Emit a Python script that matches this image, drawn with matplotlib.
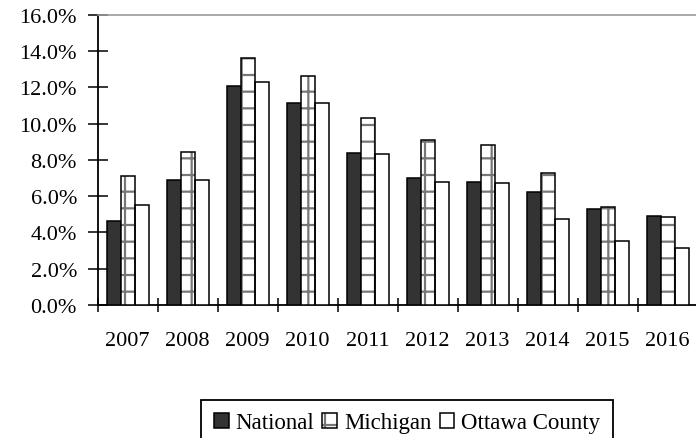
import numpy as np
import matplotlib
matplotlib.use("Agg")
import matplotlib.pyplot as plt
from matplotlib.patches import Patch
from matplotlib.legend_handler import HandlerTuple
from matplotlib.ticker import FuncFormatter

# === Données (taux de chômage, %) ===
annees = ["2007", "2008", "2009", "2010", "2011", "2012", "2013", "2014", "2015", "2016"]
national = [4.65, 6.9, 12.1, 11.15, 8.4, 7.0, 6.75, 6.2, 5.3, 4.9]
michigan = [7.1, 8.45, 13.6, 12.65, 10.3, 9.1, 8.8, 7.3, 5.4, 4.85]
ottawa = [5.5, 6.9, 12.3, 11.15, 8.35, 6.8, 6.7, 4.75, 3.5, 3.15]

plt.rcParams['font.family'] = ['Liberation Serif', 'DejaVu Serif']
plt.rcParams['hatch.linewidth'] = 1.6

fig = plt.figure(figsize=(6.96, 4.39), dpi=100)
ax = fig.add_axes([0.1404, 0.3036, 0.862, 0.66])

x = np.arange(len(annees))
w = 0.235
lw = 1.1

ax.bar(x - w, national, w, color="#333333", edgecolor="black", linewidth=lw, zorder=3)
# Michigan : quadrillage gris puis contour noir
ax.bar(x, michigan, w, color="white", edgecolor="#777777", hatch="+", linewidth=0, zorder=3)
ax.bar(x, michigan, w, fill=False, edgecolor="black", linewidth=lw, zorder=4)
ax.bar(x + w, ottawa, w, color="white", edgecolor="black", linewidth=lw, zorder=3)

# === Axes ===
ax.set_xlim(-0.5, len(annees) - 0.5)
ax.set_ylim(0, 16)
ax.set_yticks(np.arange(0, 16.1, 2))
ax.yaxis.set_major_formatter(FuncFormatter(lambda v, p: "%.1f%%" % v))
ax.tick_params(axis="y", direction="inout", length=14, width=1.1, pad=8, labelsize=16)

ax.set_xticks(np.arange(-0.5, len(annees), 1))
ax.set_xticklabels([])
ax.set_xticks(x, minor=True)
ax.set_xticklabels(annees, minor=True)
ax.tick_params(axis="x", which="major", direction="inout", length=10, width=1.1)
ax.tick_params(axis="x", which="minor", length=0, pad=19, labelsize=16)

for s in ["left", "bottom"]:
    ax.spines[s].set_linewidth(1.3)
ax.spines["right"].set_visible(False)
ax.spines["top"].set_color("#999999")
ax.spines["top"].set_linewidth(1.2)

# === Légende ===
h_nat = Patch(facecolor="#333333", edgecolor="black", linewidth=lw)
h_mi = (Patch(facecolor="white", edgecolor="#777777", hatch="+", linewidth=0),
        Patch(fill=False, edgecolor="black", linewidth=lw))
h_ot = Patch(facecolor="white", edgecolor="black", linewidth=lw)
leg = fig.legend([h_nat, h_mi, h_ot], ["National", "Michigan", "Ottawa County"],
                 handler_map={tuple: HandlerTuple(ndivide=1)},
                 loc="upper center", bbox_to_anchor=(0.585, 0.087), ncol=3,
                 fontsize=16.5, handlelength=0.65, handleheight=0.65, handletextpad=0.3,
                 columnspacing=0.35, fancybox=False, framealpha=1, borderpad=0.55,
                 borderaxespad=0)
leg.get_frame().set_edgecolor("black")
leg.get_frame().set_linewidth(1.3)

fig.savefig("out.png", dpi=100)
